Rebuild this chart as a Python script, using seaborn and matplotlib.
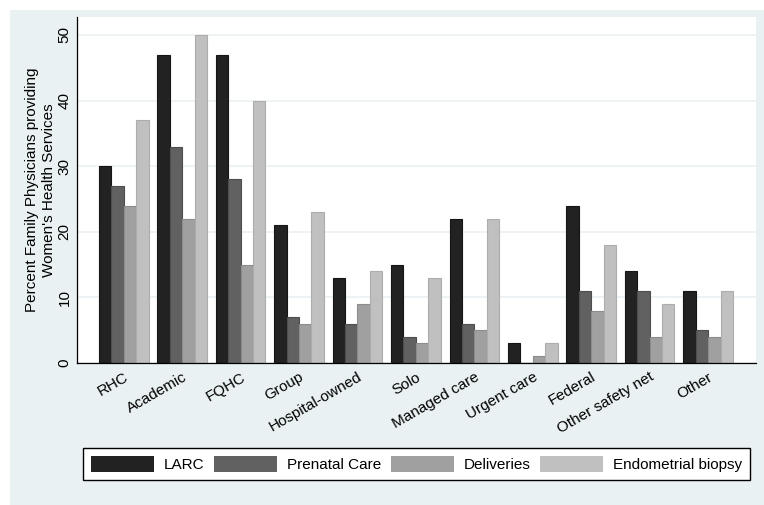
import matplotlib

matplotlib.use("Agg")
import matplotlib.pyplot as plt
import pandas as pd
import seaborn as sns
from matplotlib.patches import Rectangle

categories = [
    "RHC", "Academic", "FQHC", "Group", "Hospital-owned", "Solo",
    "Managed care", "Urgent care", "Federal", "Other safety net", "Other",
]
services = ["LARC", "Prenatal Care", "Deliveries", "Endometrial biopsy"]
larc = [30, 47, 47, 21, 13, 15, 22, 3, 24, 14, 11]
prenatal = [27, 33, 28, 7, 6, 4, 6, 0, 11, 11, 5]
deliveries = [24, 22, 15, 6, 9, 3, 5, 1, 8, 4, 4]
biopsy = [37, 50, 40, 23, 14, 13, 22, 3, 18, 9, 11]
y_ticks = [0, 10, 20, 30, 40, 50]

colors = ["#222222", "#616161", "#a0a0a0", "#c0c0c0"]
edge_colors = ["#151515", "#4e4e4e", "#8c8c8c", "#adadad"]
bg = "#eaf1f3"


def main() -> None:
    plt.rcParams["font.family"] = ["Liberation Sans", "DejaVu Sans"]

    df = pd.DataFrame({
        "setting": categories * 4,
        "service": [s for s in services for _ in categories],
        "pct": larc + prenatal + deliveries + biopsy,
    })

    fig = plt.figure(figsize=(7.64, 5.05), dpi=100)
    fig.patch.set_facecolor("white")
    fig.patches.append(Rectangle((10 / 764, 0), 1 - 10 / 764, 1 - 10 / 505,
                                 transform=fig.transFigure, facecolor=bg,
                                 edgecolor="none", zorder=-10))
    ax = fig.add_axes([77 / 764, 1 - 363 / 505, 679 / 764, 346 / 505])
    ax.set_facecolor("white")

    sns.barplot(data=df, x="setting", y="pct", hue="service", order=categories,
                hue_order=services, palette=colors, width=0.85, gap=0,
                saturation=1, ax=ax, legend=True)
    for i, cont in enumerate(ax.containers):
        for bar in cont:
            bar.set_edgecolor(edge_colors[i])
            bar.set_linewidth(0.8)

    ax.set_xlim(-0.8, 10.82)
    ax.set_ylim(0, 52.74)
    ax.set_yticks(y_ticks)
    ax.yaxis.grid(True, color=bg, linewidth=1.2)
    ax.set_axisbelow(True)
    for side in ["top", "right"]:
        ax.spines[side].set_visible(False)
    for side in ["left", "bottom"]:
        ax.spines[side].set_color("black")
        ax.spines[side].set_linewidth(0.9)

    ax.tick_params(axis="both", length=0, labelsize=11)
    ax.tick_params(axis="y", pad=4)
    ax.tick_params(axis="x", pad=5)
    for lab in ax.get_yticklabels():
        lab.set_rotation(90)
        lab.set_va("center")
    for lab in ax.get_xticklabels():
        lab.set_rotation(30)
        lab.set_ha("right")
        lab.set_va("top")
        lab.set_rotation_mode("anchor")

    ax.set_xlabel("")
    ax.set_ylabel("Percent Family Physicians providing\nWomen's Health Services",
                  fontsize=11, linespacing=1.25)
    ax.yaxis.set_label_coords(-0.031, 0.5)

    handles, labels = ax.get_legend_handles_labels()
    ax.get_legend().remove()
    leg = fig.legend(handles, labels, ncol=4, loc="center",
                     bbox_to_anchor=(416.5 / 764, 41 / 505), fontsize=11,
                     handlelength=4.1, handleheight=1.25, handletextpad=0.65,
                     columnspacing=0.65, borderpad=0.5, fancybox=False,
                     framealpha=1, edgecolor="black")
    leg.get_frame().set_linewidth(1.0)

    fig.savefig("out.png", dpi=100, facecolor=fig.get_facecolor())
    plt.close(fig)


if __name__ == "__main__":
    main()
